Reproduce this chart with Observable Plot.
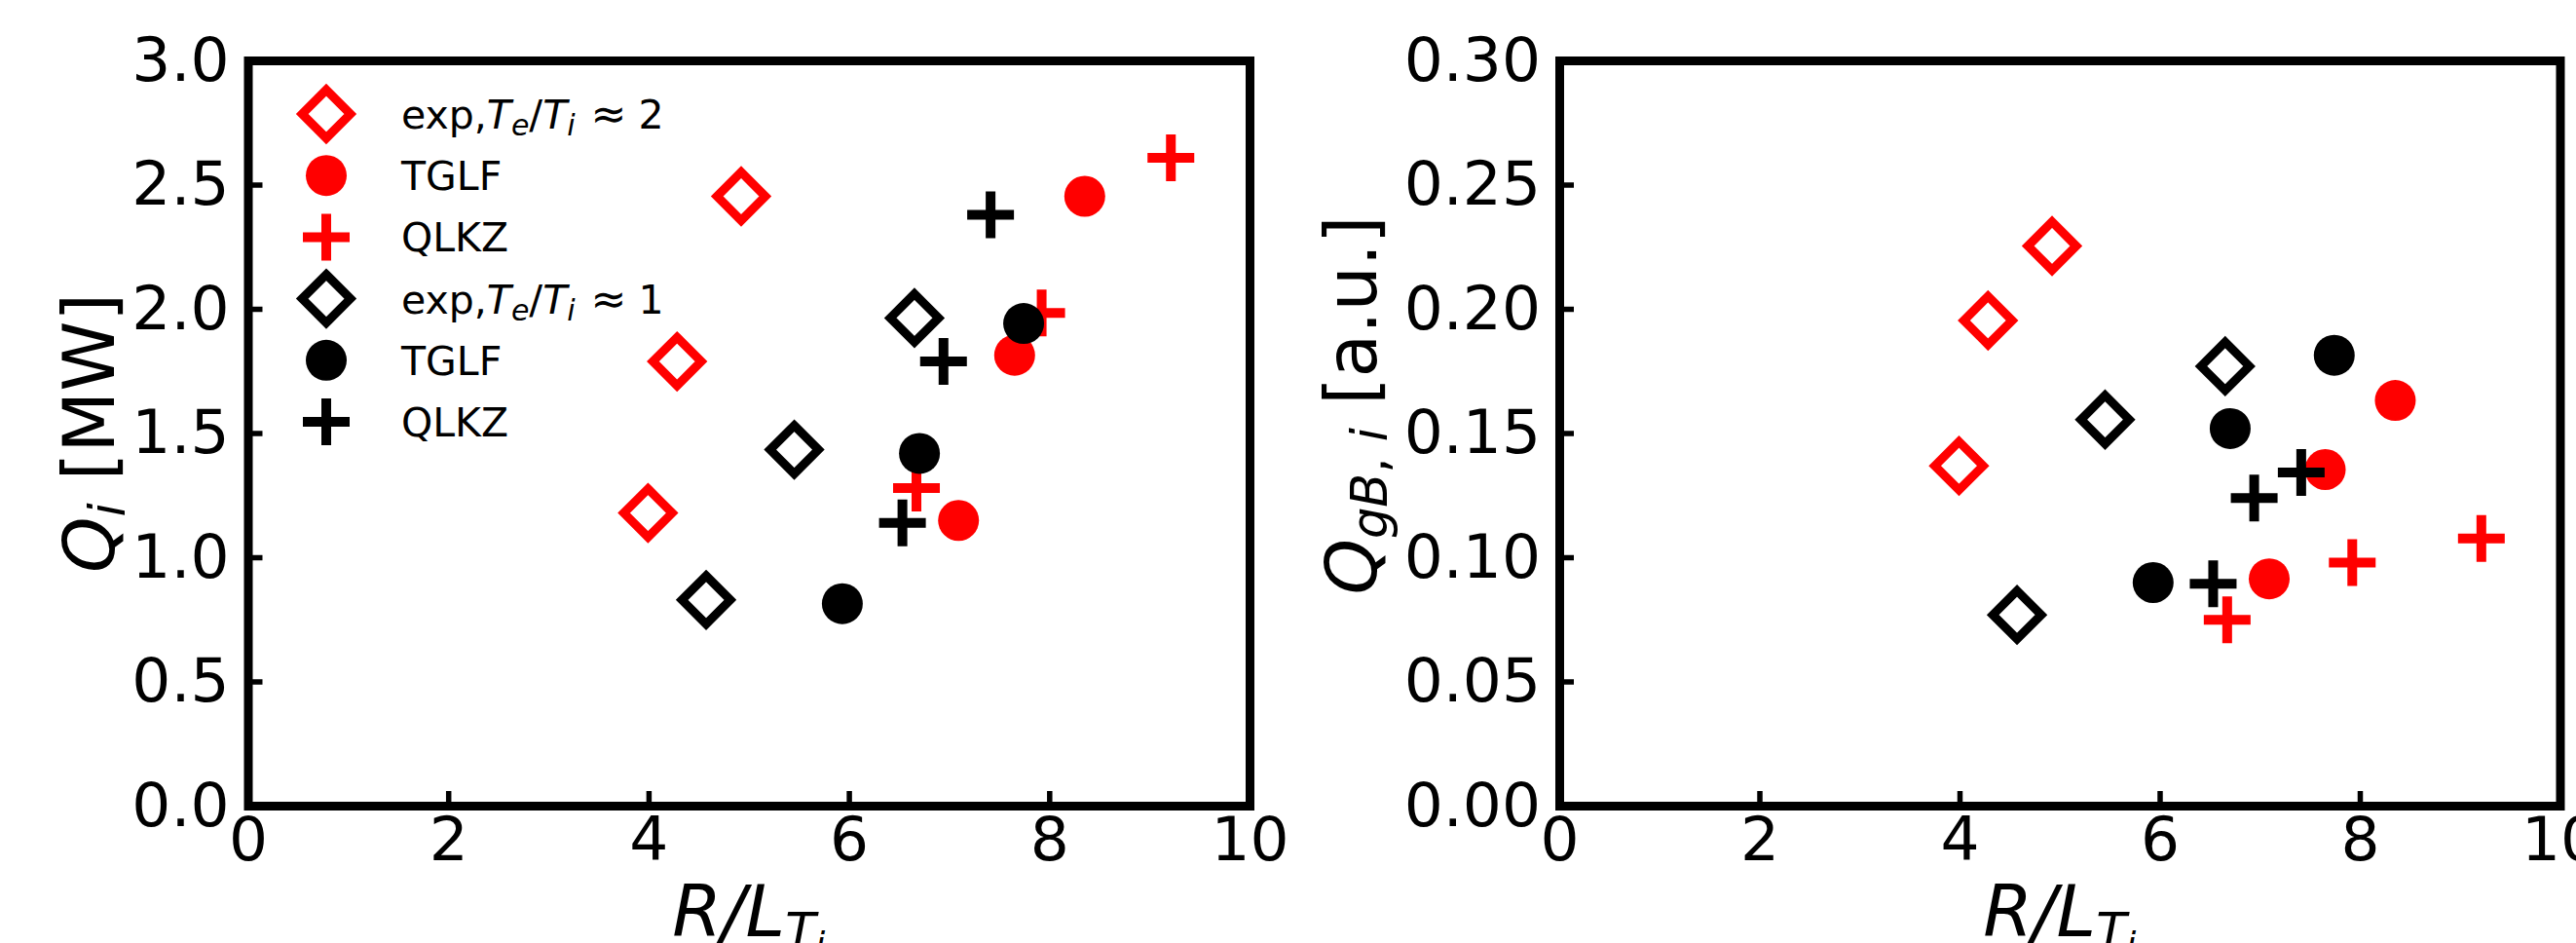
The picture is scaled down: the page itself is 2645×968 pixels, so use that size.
<!DOCTYPE html>
<html>
<head>
<meta charset="utf-8">
<script src="https://cdn.jsdelivr.net/npm/d3@7"></script>
<script src="https://cdn.jsdelivr.net/npm/@observablehq/plot@0.6"></script>
<style>
html, body { margin: 0; padding: 0; background: #fff; overflow: hidden; }
#fig { position: relative; width: 2645px; height: 968px; background: #fff; }
#fig svg { position: absolute; top: 0; max-width: none; overflow: visible; }
</style>
</head>
<body>
<div id="fig"></div>
<script>
// ---------- data ----------
const xTicks = [0, 2, 4, 6, 8, 10];
const qiTicks = [0, 0.5, 1.0, 1.5, 2.0, 2.5, 3.0];
const qgbTicks = [0, 0.05, 0.10, 0.15, 0.20, 0.25, 0.30];

const seriesNames = ["exp2", "tglf2", "qlkz2", "exp1", "tglf1", "qlkz1"];

// R/L_Ti for each series
const rltExp2  = [3.99, 4.28, 4.92];
const rltTglf2 = [7.09, 7.65, 8.35];
const rltQlkz2 = [6.67, 7.92, 9.21];
const rltExp1  = [4.57, 5.45, 6.65];
const rltTglf1 = [5.93, 6.70, 7.74];
const rltQlkz1 = [6.53, 6.94, 7.41];

// Q_i [MW]
const qiExp2  = [1.18, 1.79, 2.455];
const qiTglf2 = [1.15, 1.815, 2.455];
const qiQlkz2 = [1.28, 1.985, 2.61];
const qiExp1  = [0.83, 1.435, 1.965];
const qiTglf1 = [0.815, 1.42, 1.943];
const qiQlkz1 = [1.14, 1.79, 2.38];

// Q_gB,i [a.u.]
const qgbExp2  = [0.137, 0.1955, 0.2255];
const qgbTglf2 = [0.0915, 0.1355, 0.1633];
const qgbQlkz2 = [0.075, 0.098, 0.1077];
const qgbExp1  = [0.077, 0.1556, 0.1771];
const qgbTglf1 = [0.090, 0.152, 0.1815];
const qgbQlkz1 = [0.0895, 0.124, 0.1343];

const rltAll = [rltExp2, rltTglf2, rltQlkz2, rltExp1, rltTglf1, rltQlkz1];
const qiAll  = [qiExp2, qiTglf2, qiQlkz2, qiExp1, qiTglf1, qiQlkz1];
const qgbAll = [qgbExp2, qgbTglf2, qgbQlkz2, qgbExp1, qgbTglf1, qgbQlkz1];

// ---------- styles ----------
const RED = "#ff0000", BLK = "#000000";
const styles = {
  exp2:  {kind: "diamond", color: RED},
  tglf2: {kind: "circle",  color: RED},
  qlkz2: {kind: "plus",    color: RED},
  exp1:  {kind: "diamond", color: BLK},
  tglf1: {kind: "circle",  color: BLK},
  qlkz1: {kind: "plus",    color: BLK}
};
// custom symbols: size = PI * r^2, r = half extent (stroke centre)
const diamondSym = {draw(ctx, size) { const r = Math.sqrt(size / Math.PI); ctx.moveTo(0, -r); ctx.lineTo(r, 0); ctx.lineTo(0, r); ctx.lineTo(-r, 0); ctx.closePath(); }};
const plusSym = {draw(ctx, size) { const r = Math.sqrt(size / Math.PI); ctx.moveTo(-r, 0); ctx.lineTo(r, 0); ctx.moveTo(0, -r); ctx.lineTo(0, r); }};
const DIAM_R = 24.8, CIRC_R = 21, PLUS_R = 24.0;
const DIAM_SW = 9, PLUS_SW = 10;

function markFor(name, rows) {
  const s = styles[name];
  if (s.kind === "diamond")
    return Plot.dot(rows, {x: "x", y: "y", symbol: diamondSym, r: DIAM_R, fill: "none", stroke: s.color, strokeWidth: DIAM_SW, strokeLinejoin: "miter"});
  if (s.kind === "circle")
    return Plot.dot(rows, {x: "x", y: "y", symbol: "circle", r: CIRC_R, fill: s.color, stroke: "none"});
  return Plot.dot(rows, {x: "x", y: "y", symbol: plusSym, r: PLUS_R, fill: "none", stroke: s.color, strokeWidth: PLUS_SW, strokeLinecap: "butt"});
}

function rich(sel, parts) {
  let cur = 0;
  parts.forEach(p => {
    const ts = sel.append("tspan").text(p.t);
    ts.attr("font-style", p.italic ? "italic" : "normal");
    if (p.size) ts.attr("font-size", p.size);
    if (p.dx) ts.attr("dx", p.dx);
    const s = p.shift || 0;
    if (s !== cur) { ts.attr("dy", s - cur); cur = s; }
  });
}

function panel({yAll, yDomain, yTicks, yFmt, width, mLeft, mRight}) {
  const marks = [];
  seriesNames.forEach((name, k) => {
    const rows = rltAll[k].map((x, j) => ({x, y: yAll[k][j]}));
    marks.push(markFor(name, rows));
  });
  marks.push(
    Plot.axisX({ticks: xTicks, tickSize: -15, strokeWidth: 5.5, fill: "none", label: null}),
    Plot.axisY({ticks: yTicks, tickSize: -15, strokeWidth: 5.5, fill: "none", label: null}),
    Plot.axisX({ticks: xTicks, tickSize: 0, tickPadding: 11, tickFormat: d3.format("d"), label: null}),
    Plot.axisY({ticks: yTicks, tickSize: 0, tickPadding: 19.5, tickFormat: yFmt, label: null}),
    Plot.frame({stroke: "black", strokeWidth: 9})
  );
  const svg = Plot.plot({
    width, height: 968,
    marginLeft: mLeft, marginRight: mRight, marginTop: 62, marginBottom: 141,
    x: {domain: [0, 10]},
    y: {domain: yDomain},
    style: {fontFamily: "'DejaVu Sans'", fontSize: "63px", color: "black", background: "transparent"},
    marks
  });
  svg.style.maxWidth = "none";
  svg.style.overflow = "visible";
  return svg;
}

const fig = document.getElementById("fig");

const left = panel({yAll: qiAll, yDomain: [0, 3], yTicks: qiTicks, yFmt: d3.format(".1f"), width: 1320, mLeft: 254.5, mRight: 37});
left.style.left = "0px";
fig.appendChild(left);

const right = panel({yAll: qgbAll, yDomain: [0, 0.3], yTicks: qgbTicks, yFmt: d3.format(".2f"), width: 1325, mLeft: 281, mRight: 16.5});
right.style.left = "1320px";
fig.appendChild(right);

// ---------- axis labels ----------
const LBL = 73, SUB = 51, SUBSUB = 36;
function xLabel(svg, cx) {
  const t = d3.select(svg).append("text")
    .attr("x", cx).attr("y", 961).attr("text-anchor", "middle")
    .attr("font-family", "DejaVu Sans").attr("font-size", LBL).attr("fill", "black")
    .style("white-space", "pre");
  rich(t, [
    {t: "R/L", italic: true},
    {t: "T", italic: true, size: SUB, shift: 13},
    {t: "i", italic: true, size: SUBSUB, shift: 21}
  ]);
}
xLabel(left, 768.75);
xLabel(right, 2114.75 - 1320);

function yLabel(svg, bx, cy, parts) {
  const t = d3.select(svg).append("text")
    .attr("transform", `translate(${bx},${cy}) rotate(-90)`).attr("text-anchor", "middle")
    .attr("font-family", "DejaVu Sans").attr("font-size", LBL).attr("fill", "black")
    .style("white-space", "pre");
  rich(t, parts);
}
yLabel(left, 117, 444.5, [
  {t: "Q", italic: true},
  {t: "i", italic: true, size: SUB, shift: 11},
  {t: " [MW]", italic: false, shift: 0}
]);
yLabel(right, 1413 - 1320, 416, [
  {t: "Q", italic: true},
  {t: "gB", italic: true, size: SUB, shift: 11},
  {t: ", ", italic: false, size: SUB, shift: 11},
  {t: "i", italic: true, size: SUB, shift: 11},
  {t: " [a.u.]", italic: false, shift: 0}
]);

// ---------- legend ----------
function expLabel(v) {
  return [
    {t: "exp,"}, {t: "T", italic: true}, {t: "e", italic: true, size: 30, shift: 7},
    {t: "/", shift: 0}, {t: "T", italic: true}, {t: "i", italic: true, size: 30, shift: 7},
    {t: "≈", shift: 0, dx: 16, size: 44}, {t: v, dx: 12}
  ];
}
const legendLabels = [expLabel("2"), [{t: "TGLF"}], [{t: "QLKZ"}], expLabel("1"), [{t: "TGLF"}], [{t: "QLKZ"}]];
const lg = d3.select(left).append("g");
seriesNames.forEach((name, k) => {
  const cy = 117 + 63.2 * k;
  const s = styles[name];
  if (s.kind === "diamond") {
    lg.append("path").attr("transform", `translate(335,${cy})`)
      .attr("d", d3.symbol(diamondSym, Math.PI * DIAM_R * DIAM_R)())
      .attr("fill", "none").attr("stroke", s.color).attr("stroke-width", DIAM_SW).attr("stroke-linejoin", "miter");
  } else if (s.kind === "circle") {
    lg.append("circle").attr("cx", 335).attr("cy", cy).attr("r", CIRC_R).attr("fill", s.color);
  } else {
    lg.append("path").attr("transform", `translate(335,${cy})`)
      .attr("d", d3.symbol(plusSym, Math.PI * PLUS_R * PLUS_R)())
      .attr("fill", "none").attr("stroke", s.color).attr("stroke-width", PLUS_SW).attr("stroke-linecap", "butt");
  }
  const t = lg.append("text").attr("x", 412).attr("y", cy + 15).attr("text-anchor", "start")
    .attr("font-family", "DejaVu Sans").attr("font-size", 41).attr("fill", "black")
    .style("white-space", "pre");
  rich(t, legendLabels[k]);
});
</script>
</body>
</html>
